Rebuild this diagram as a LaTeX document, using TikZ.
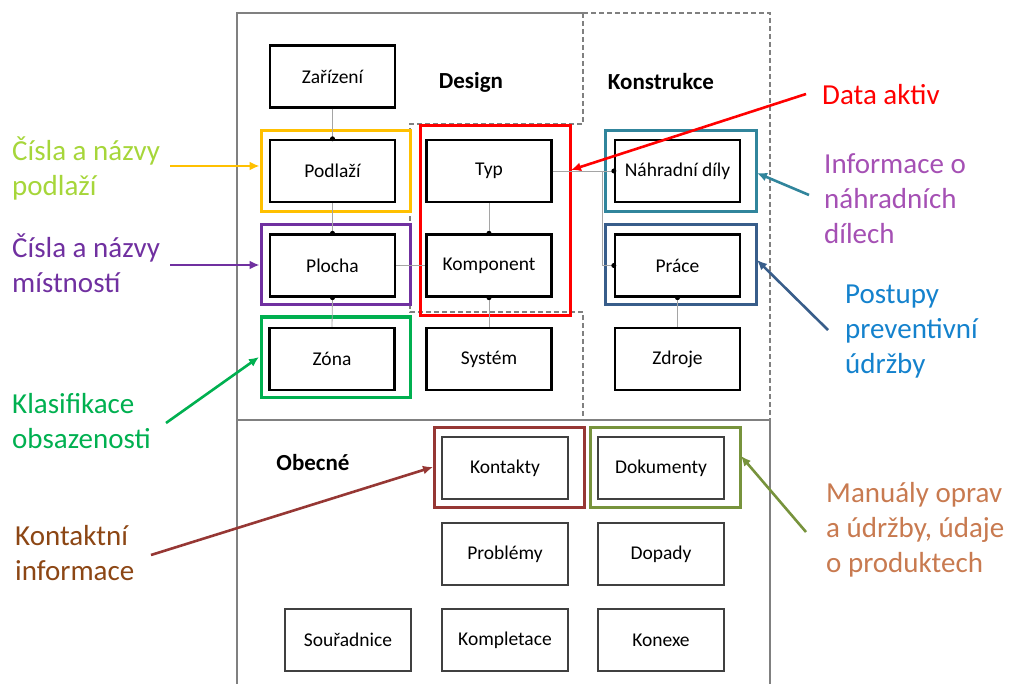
\documentclass[tikz,border=0pt]{standalone}
\usepackage{fontspec}
\setmainfont{Carlito}
\usetikzlibrary{arrows.meta}
\definecolor{cOrange}{RGB}{255,192,0}
\definecolor{cLime}{RGB}{166,214,58}
\definecolor{cPurple}{RGB}{112,48,160}
\definecolor{cGreen}{RGB}{0,176,80}
\definecolor{cBrownT}{RGB}{140,70,20}
\definecolor{cBrownA}{RGB}{150,55,52}
\definecolor{cTeal}{RGB}{49,133,156}
\definecolor{cPink}{RGB}{165,80,180}
\definecolor{cNavy}{RGB}{56,93,138}
\definecolor{cBlue}{RGB}{20,130,205}
\definecolor{cOlive}{RGB}{119,147,60}
\definecolor{cTan}{RGB}{200,122,80}
\definecolor{cFrame}{RGB}{128,128,128}
\definecolor{cConn}{RGB}{165,165,165}
\tikzset{
  ent/.style={draw=black, line width=2.4pt, minimum width=125pt, minimum height=62pt, inner sep=0pt, font=\fontsize{19.5}{22}\selectfont},
  gen/.style={draw=black!75, line width=1.5pt, minimum width=126pt, minimum height=62pt, inner sep=0pt, font=\fontsize{19.5}{22}\selectfont},
  hl/.style={draw=#1, line width=3pt, inner sep=0pt},
  conn/.style={draw=cConn, line width=0.8pt},
  dot/.style={circle, fill=black, inner sep=0pt, minimum size=5pt},
  ttl/.style={font=\fontsize{23}{26}\selectfont\bfseries},
  ann/.style={align=left, anchor=west, inner sep=0pt, font=\fontsize{29}{35}\selectfont},
  arr/.style={line width=2.6pt, -{Latex[length=10pt,width=9pt]}},
  frame/.style={draw=cFrame, line width=1.2pt},
  dframe/.style={draw=cFrame, line width=1.2pt, dash pattern=on 5pt off 3pt},
}
\begin{document}
\begin{tikzpicture}[x=1pt,y=-1pt]
\useasboundingbox (0,0) rectangle (1011,684);
% region frames
\draw[frame] (237,690) -- (237,13) -- (583,13);
\draw[frame] (237,420) -- (770,420) -- (770,690);
\draw[dframe] (583,13) -- (770,13) -- (770,420);
\draw[dframe] (583,13) -- (583,124) -- (410,124) -- (410,312) -- (583,312) -- (583,420);
% titles
\node[ttl] (tDesign) at (471,82) {Design};
\node[ttl] (tKons) at (661,82) {Konstrukce};
\node[ttl] (tObec) at (313,463) {Obecné};
% highlight boxes
\node[hl=cOrange, minimum width=149pt, minimum height=81pt] (hPod) at (335.5,171.5) {};
\node[hl=cPurple, minimum width=149pt, minimum height=80pt] (hPlo) at (335.5,265) {};
\node[hl=cGreen, minimum width=149pt, minimum height=80pt] (hZon) at (335.5,357) {};
\node[hl=red, minimum width=150pt, minimum height=190pt] (hDes) at (495,221) {};
\node[hl=cTeal, minimum width=151pt, minimum height=81pt] (hNd) at (680.5,171.5) {};
\node[hl=cNavy, minimum width=151pt, minimum height=80pt] (hPra) at (680.5,265) {};
\node[hl=cBrownA, minimum width=150pt, minimum height=80pt] (hKon) at (509,467) {};
\node[hl=cOlive, minimum width=150pt, minimum height=80pt] (hDok) at (665,467) {};
% entity boxes
\node[ent] (zar) at (332.5,76.5) {Zařízení};
\node[ent] (pod) at (332.5,171) {Podlaží};
\node[ent] (plo) at (332.5,265.5) {Plocha};
\node[ent] (zon) at (332,359) {Zóna};
\node[ent] (typ) at (489,171) {Typ};
\node[ent] (kom) at (489,265.5) {Komponent};
\node[ent] (sys) at (489,359) {Systém};
\node[ent] (nd) at (677.5,171) {Náhradní díly};
\node[ent] (pra) at (677.5,265.5) {Práce};
\node[ent] (zdr) at (677.5,359) {Zdroje};
% general boxes
\node[gen] (kont) at (505,468) {Kontakty};
\node[gen] (dok) at (661,468) {Dokumenty};
\node[gen] (prob) at (505,554) {Problémy};
\node[gen] (dop) at (661,554) {Dopady};
\node[gen] (sour) at (348,640) {Souřadnice};
\node[gen] (komp) at (505,640) {Kompletace};
\node[gen] (konx) at (661,640) {Konexe};
% connectors
\draw[conn] (zar.south) -- (pod.north);
\draw[conn] (pod.south) -- (plo.north);
\draw[conn] (plo.south) -- (zon.north);
\draw[conn] (typ.south) -- (kom.north);
\draw[conn] (kom.south) -- (sys.north);
\draw[conn] (plo.east) -- (kom.west);
\draw[conn] (typ.east) -- (nd.west);
\coordinate (jn) at (602,171);
\draw[conn] (jn) |- (pra.west);
\draw[conn] (pra.south) -- (zdr.north);
\foreach \p in {pod.north,plo.north,plo.south,kom.north,kom.south,nd.west,pra.west,pra.south}
  \node[dot] at (\p) {};
% annotations
\node[ann, text=cLime] (aPod) at (12,168) {Čísla a názvy\\podlaží};
\node[ann, text=cPurple] (aPlo) at (12,263) {Čísla a názvy\\místností};
\node[ann, text=cGreen] (aZon) at (12,421) {Klasifikace\\obsazenosti};
\node[ann, text=cBrownT] (aKon) at (15,553) {Kontaktní\\informace};
\node[ann, text=red] (aDat) at (822,95) {Data aktiv};
\node[ann, text=cPink] (aNd) at (824,199) {Informace o\\náhradních\\dílech};
\node[ann, text=cBlue] (aPra) at (845,332) {Postupy\\preventivní\\údržby};
\node[ann, text=cTan] (aDok) at (826,530) {Manuály oprav\\a údržby, údaje\\o produktech};
% arrows
\coordinate (s1) at (170,166);
\draw[arr, draw=cOrange, fill=cOrange] (s1) -- (s1 -| hPod.west);
\coordinate (s2) at (170,265);
\draw[arr, draw=cPurple, fill=cPurple] (s2) -- (s2 -| hPlo.west);
\coordinate (s3) at (166,423);
\coordinate (e3) at (259,357);
\draw[arr, draw=cGreen, fill=cGreen] (s3) -- (e3);
\coordinate (s4) at (151,555);
\coordinate (e4) at (433,467);
\draw[arr, draw=cBrownA, fill=cBrownA] (s4) -- (e4);
\coordinate (s5) at (806,94);
\coordinate (e5) at (571,170);
\draw[arr, draw=red, fill=red] (s5) -- (e5);
\coordinate (s6) at (809,195);
\coordinate (e6) at (757,173);
\draw[arr, draw=cTeal, fill=cTeal] (s6) -- (e6);
\coordinate (s7) at (828,330);
\coordinate (e7) at (757,260);
\draw[arr, draw=cNavy, fill=cNavy] (s7) -- (e7);
\coordinate (s8) at (806,532);
\coordinate (e8) at (741,456);
\draw[arr, draw=cOlive, fill=cOlive] (s8) -- (e8);
\end{tikzpicture}
\end{document}
